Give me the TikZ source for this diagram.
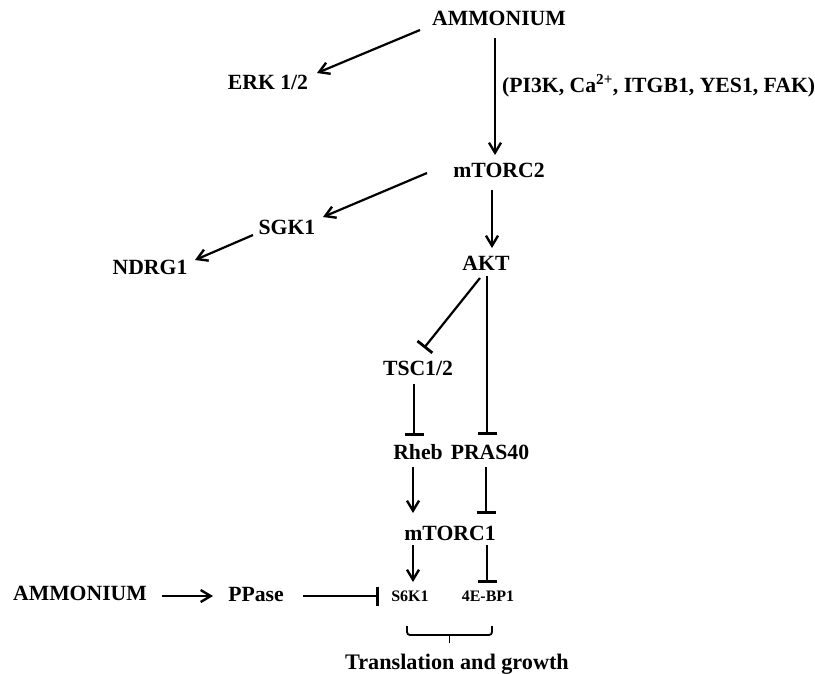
\documentclass[tikz,border=0pt]{standalone}
\usepackage{fontspec}
\setmainfont{Liberation Serif}
\usetikzlibrary{arrows.meta,calc}
\begin{document}
\begin{tikzpicture}[x=1pt,y=-1pt,
  lbl/.style={inner sep=0pt,text height=14.3pt,text depth=0pt,font=\fontsize{21.7}{26}\selectfont\bfseries},
  small/.style={inner sep=0pt,text height=10.6pt,text depth=0pt,font=\fontsize{16}{19}\selectfont\bfseries},
  act/.style={line width=2.2pt,-{Straight Barb[length=10pt,width=12pt,line width=2.4pt]}},
  inh/.style={line width=2.2pt,-{Bar[width=19pt,line width=2.8pt]}},
  brk/.style={line width=1.8pt,rounded corners=3pt}]
\useasboundingbox (0,0) rectangle (815,673);
% nodes
\node[lbl] (amm1) at (499,18) {AMMONIUM};
\node[lbl] (erk) at (268,82) {ERK 1/2};
\node[lbl,anchor=west] (via) at (502,85) {(PI3K, Ca\textsuperscript{2+}, ITGB1, YES1, FAK)};
\node[lbl] (mtorc2) at (499,170) {mTORC2};
\node[lbl] (sgk1) at (287,227) {SGK1};
\node[lbl] (ndrg1) at (150,267) {NDRG1};
\node[lbl] (akt) at (486,263) {AKT};
\node[lbl] (tsc) at (418,368) {TSC1/2};
\node[lbl] (rheb) at (418,452) {Rheb};
\node[lbl] (pras) at (490,452) {PRAS40};
\node[lbl] (mtorc1) at (450,533) {mTORC1};
\node[small] (s6k1) at (410,596) {S6K1};
\node[small] (ebp) at (488,596) {4E-BP1};
\node[lbl] (amm2) at (80,593) {AMMONIUM};
\node[lbl] (ppase) at (256,594) {PPase};
\node[lbl,text height=14.7pt,font=\fontsize{22.2}{27}\selectfont\bfseries] (trans) at (457,662) {Translation and growth};
% connectors
\draw[act] ($(amm1)+(-79,12)$) -- ($(erk)+(49,-9)$);
\draw[act] ($(amm1)+(-4,20)$) -- ($(mtorc2)+(-4,-15)$);
\draw[act] ($(mtorc2)+(-72,3)$) -- ($(sgk1)+(36,-10)$);
\draw[act] ($(sgk1)+(-34,8)$) -- ($(ndrg1)+(45,-7)$);
\draw[act] ($(mtorc2)+(-7,20)$) -- ($(akt)+(6,-15)$);
\draw[inh] ($(akt)+(-6,15)$) -- ($(tsc)+(6,-20)$);
\draw[inh] ($(akt)+(1,13)$) -- ($(pras)+(-3,-17)$);
\draw[inh] ($(tsc)+(-4,16)$) -- ($(rheb)+(-4,-16)$);
\draw[act] ($(rheb)+(-5,15)$) -- ($(mtorc1)+(-37,-20)$);
\draw[inh] ($(pras)+(-4,15)$) -- ($(mtorc1)+(36,-19)$);
\draw[act] ($(mtorc1)+(-37,12)$) -- ($(s6k1)+(3,-14)$);
\draw[inh] ($(mtorc1)+(37,12)$) -- ($(ebp)+(-1,-13)$);
\draw[act] ($(amm2)+(82,3)$) -- ($(ppase)+(-43,2)$);
\draw[inh] ($(ppase)+(47,2)$) -- ($(s6k1)+(-31,0)$);
% bracket
\coordinate (bl) at ($(s6k1)+(-3,30)$);
\coordinate (br) at ($(ebp)+(4,30)$);
\draw[brk] (bl) -- ($(bl)+(0,9)$) -- ($(br)+(0,9)$) -- (br);
\draw[line width=1.8pt] ($(bl)!0.5!(br)+(0,9)$) -- ($(bl)!0.5!(br)+(0,17)$);
\end{tikzpicture}
\end{document}
